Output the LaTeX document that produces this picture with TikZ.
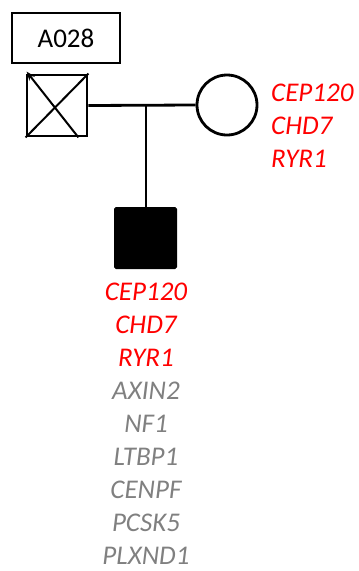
\documentclass[tikz,border=0pt]{standalone}
\usepackage{fontspec}
\setmainfont{Carlito}
\usetikzlibrary{arrows.meta}
\definecolor{genered}{RGB}{255,0,0}
\definecolor{genegray}{RGB}{128,128,128}
\tikzset{
  gene/.style={font=\fontsize{27}{30}\selectfont\itshape, inner sep=0pt},
  redgene/.style={gene, text=genered},
  graygene/.style={gene, text=genegray},
  pedline/.style={line width=2.8pt},
}
\begin{document}
\begin{tikzpicture}[x=1pt,y=-1pt]
\useasboundingbox (0,0) rectangle (359,571);
% family label
\node[draw, line width=1.5pt, minimum width=108pt, minimum height=50pt, inner sep=0pt,
      font=\fontsize{27}{30}\selectfont] (label) at (66,38) {A028};
% father
\node[draw, pedline, minimum width=60pt, minimum height=61pt, inner sep=0pt] (father) at (57,105.5) {};
\draw[line width=2pt] (father.north east) -- (father.south west);
\draw[line width=2pt, -{Stealth[length=9pt,width=7pt]}] ([xshift=-10pt]father.south east) -- ([xshift=1pt,yshift=2pt]father.north west);
% mother
\node[draw, pedline, circle, minimum size=60pt, inner sep=0pt] (mother) at (227,105) {};
% marriage line
\draw[pedline] (father.east) -- (mother.west);
\coordinate (mid) at (146,106);
% child
\node[fill=black, draw, line width=1pt, rounded corners=1.5pt, minimum width=62pt, minimum height=61pt, inner sep=0pt] (child) at (145.5,238) {};
\draw[pedline] (mid) -- (child.north -| mid);
% mother genes
\node[redgene, anchor=base west] (m1) at (271,101) {CEP120};
\node[redgene, anchor=base west] (m2) at (271,134) {CHD7};
\node[redgene, anchor=base west] (m3) at (271,167) {RYR1};
% child genes
\node[redgene, anchor=base] (c1) at (146,300) {CEP120};
\node[redgene, anchor=base] (c2) at (146,333) {CHD7};
\node[redgene, anchor=base] (c3) at (146,366) {RYR1};
\node[graygene, anchor=base] (c4) at (146,399) {AXIN2};
\node[graygene, anchor=base] (c5) at (146,432) {NF1};
\node[graygene, anchor=base] (c6) at (146,465) {LTBP1};
\node[graygene, anchor=base] (c7) at (146,498) {CENPF};
\node[graygene, anchor=base] (c8) at (146,531) {PCSK5};
\node[graygene, anchor=base] (c9) at (146,564) {PLXND1};
\end{tikzpicture}
\end{document}
